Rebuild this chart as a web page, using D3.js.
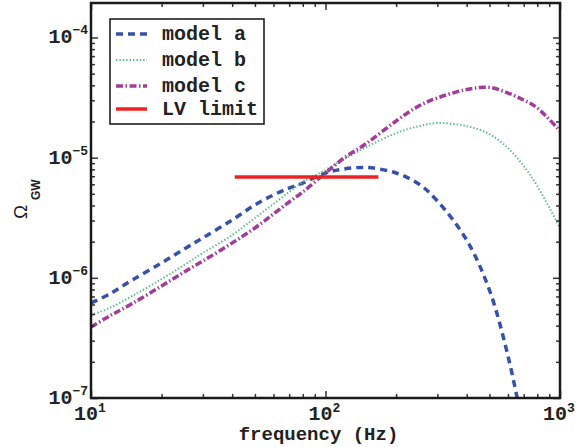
<!DOCTYPE html>
<html>
<head>
<meta charset="utf-8">
<script src="https://cdn.jsdelivr.net/npm/d3@7"></script>
<style>
  body { margin: 0; background: #fff; }
  .mono { font-family: "Courier New", Courier, "Nimbus Mono PS", "Liberation Mono", monospace; font-weight: bold; fill: #222; }
</style>
</head>
<body>
<svg id="chart" width="588" height="447"></svg>
<script>
// data
const freq = [10, 12, 15, 20, 25, 30, 40, 50, 60, 70, 80, 100, 120, 150, 200, 250, 300, 400, 500, 600, 700, 800, 1000];
const modelA = [6.17e-7, 7.33e-7, 9.6e-7, 1.33e-6, 1.74e-6, 2.15e-6, 3.03e-6, 4.04e-6, 4.89e-6, 5.59e-6, 6.15e-6, 7.45e-6,
                8.04e-6, 8.28e-6, 7.45e-6, 6.04e-6, 4.36e-6, 2.06e-6, 7.92e-7, 2.24e-7, 5.4e-8, null, null];
const modelB = [4.90e-7, 5.61e-7, 7.06e-7, 9.78e-7, 1.28e-6, 1.61e-6, 2.27e-6, 3.15e-6, 4.12e-6, 5.18e-6, 6.27e-6, 7.89e-6,
                9.74e-6, 1.23e-5, 1.60e-5, 1.83e-5, 1.94e-5, 1.83e-5, 1.57e-5, 1.20e-5, 8.52e-6, 5.81e-6, 2.60e-6];
const modelC = [3.90e-7, 4.81e-7, 6.11e-7, 8.55e-7, 1.12e-6, 1.38e-6, 1.95e-6, 2.60e-6, 3.40e-6, 4.28e-6, 5.18e-6, 7.45e-6,
                9.94e-6, 1.32e-5, 2.02e-5, 2.69e-5, 3.14e-5, 3.69e-5, 3.84e-5, 3.45e-5, 3.02e-5, 2.59e-5, 1.67e-5];
const lvFreq = [41, 168];
const lvValue = [6.9e-6, 6.9e-6];
const xTickExp = [1, 2, 3];
const yTickExp = [-7, -6, -5, -4];
const legendNames = ["model a", "model b", "model c", "LV limit"];

const svg = d3.select("#chart");
const pLeft = 91, pRight = 560, pTop = 3, pBottom = 398;

const x = d3.scaleLog().domain([10, 1000]).range([pLeft, pRight]);
const y = d3.scaleLog().domain([1e-7, 1.936e-4]).range([pBottom, pTop]);

svg.append("clipPath").attr("id", "clip")
    .append("rect").attr("x", pLeft).attr("y", pTop).attr("width", pRight - pLeft).attr("height", pBottom - pTop);

// series styles
const series = [
    { vals: modelA, color: "#3552a6", width: 3.5, dash: "7,5" },
    { vals: modelB, color: "#5cb888", width: 2, dash: "1.4,2" },
    { vals: modelC, color: "#a23c9c", width: 3.5, dash: "7,2.5,1.5,2.5" }
];

const line = d3.line()
    .defined(d => d[1] != null)
    .x(d => x(d[0]))
    .y(d => y(d[1]))
    .curve(d3.curveCatmullRom);

const plot = svg.append("g").attr("clip-path", "url(#clip)");
series.forEach(s => {
    plot.append("path")
        .datum(freq.map((f, i) => [f, s.vals[i]]))
        .attr("d", line)
        .attr("fill", "none")
        .attr("stroke", s.color)
        .attr("stroke-width", s.width)
        .attr("stroke-dasharray", s.dash);
});

plot.append("path")
    .datum(lvFreq.map((f, i) => [f, lvValue[i]]))
    .attr("d", d3.line().x(d => x(d[0])).y(d => y(d[1])))
    .attr("fill", "none")
    .attr("stroke", "#ee2222")
    .attr("stroke-width", 3.5);

// minor + major ticks on all four sides
const xMinor = [], yMinor = [];
for (let e = 1; e < 3; e++) for (let m = 2; m <= 9; m++) xMinor.push(m * Math.pow(10, e));
for (let e = -7; e < -3; e++) for (let m = 2; m <= 9; m++) if (m * Math.pow(10, e) < 1.936e-4) yMinor.push(m * Math.pow(10, e));

const xMajor = xTickExp.map(e => Math.pow(10, e));
const yMajor = yTickExp.map(e => Math.pow(10, e));
[[xMinor, 4], [xMajor, 7]].forEach(([vals, len]) => {
    svg.append("g").attr("transform", `translate(0,${pBottom})`)
        .call(d3.axisBottom(x).tickValues(vals).tickSize(-len).tickFormat(""));
    svg.append("g").attr("transform", `translate(0,${pTop})`)
        .call(d3.axisTop(x).tickValues(vals).tickSize(-len).tickFormat(""));
});
[[yMinor, 4], [yMajor, 7]].forEach(([vals, len]) => {
    svg.append("g").attr("transform", `translate(${pLeft},0)`)
        .call(d3.axisLeft(y).tickValues(vals).tickSize(-len).tickFormat(""));
    svg.append("g").attr("transform", `translate(${pRight},0)`)
        .call(d3.axisRight(y).tickValues(vals).tickSize(-len).tickFormat(""));
});
svg.selectAll(".domain").remove();
svg.selectAll(".tick line").attr("stroke", "#333").attr("stroke-width", 1.5);

// frame
svg.append("rect")
    .attr("x", pLeft).attr("y", pTop).attr("width", pRight - pLeft).attr("height", pBottom - pTop)
    .attr("fill", "none").attr("stroke", "#1a1a1a").attr("stroke-width", 2.5);

// tick labels
xTickExp.forEach(e => {
    const t = svg.append("text").attr("class", "mono")
        .attr("x", x(Math.pow(10, e)) - 1).attr("y", 420)
        .attr("text-anchor", "middle").style("font-size", "20px");
    t.append("tspan").text("10");
    t.append("tspan").attr("dy", -8).style("font-size", "13px").text(e);
});
yTickExp.forEach(e => {
    const t = svg.append("text").attr("class", "mono")
        .attr("x", 88).attr("y", y(Math.pow(10, e)) + 6)
        .attr("text-anchor", "end").style("font-size", "20px");
    t.append("tspan").text("10");
    t.append("tspan").attr("dy", -9).style("font-size", "13px").text("\u2212" + Math.abs(e));
});

// axis labels
svg.append("text").attr("class", "mono")
    .attr("x", (pLeft + pRight) / 2 - 7).attr("y", 440)
    .attr("text-anchor", "middle").style("font-size", "19px")
    .text("frequency (Hz)");

svg.append("text")
    .attr("transform", "translate(27,219) rotate(-90)")
    .style("font-family", "'Liberation Sans', Arial, sans-serif")
    .style("font-size", "19px").attr("fill", "#222")
    .text("\u03A9");
svg.append("text")
    .attr("transform", "translate(40,200) rotate(-90)")
    .style("font-family", "'Liberation Sans', Arial, sans-serif")
    .style("font-weight", "bold").style("font-size", "12px").attr("fill", "#222")
    .text("GW");

// legend
const lg = svg.append("g");
lg.append("rect").attr("x", 110).attr("y", 19).attr("width", 154).attr("height", 105)
    .attr("fill", "#fff").attr("stroke", "#111").attr("stroke-width", 1.5);
const legendStyles = series.concat([{ color: "#ee2222", width: 3.5, dash: null }]);
const legendY = [34, 60, 86, 109];
legendNames.forEach((name, i) => {
    const s = legendStyles[i];
    lg.append("line").attr("x1", 116).attr("x2", 147).attr("y1", legendY[i]).attr("y2", legendY[i])
        .attr("stroke", s.color).attr("stroke-width", s.width)
        .attr("stroke-dasharray", s.dash);
    lg.append("text").attr("class", "mono")
        .attr("x", 162).attr("y", legendY[i] + 6)
        .style("font-size", "20px").text(name);
});
</script>
</body>
</html>
